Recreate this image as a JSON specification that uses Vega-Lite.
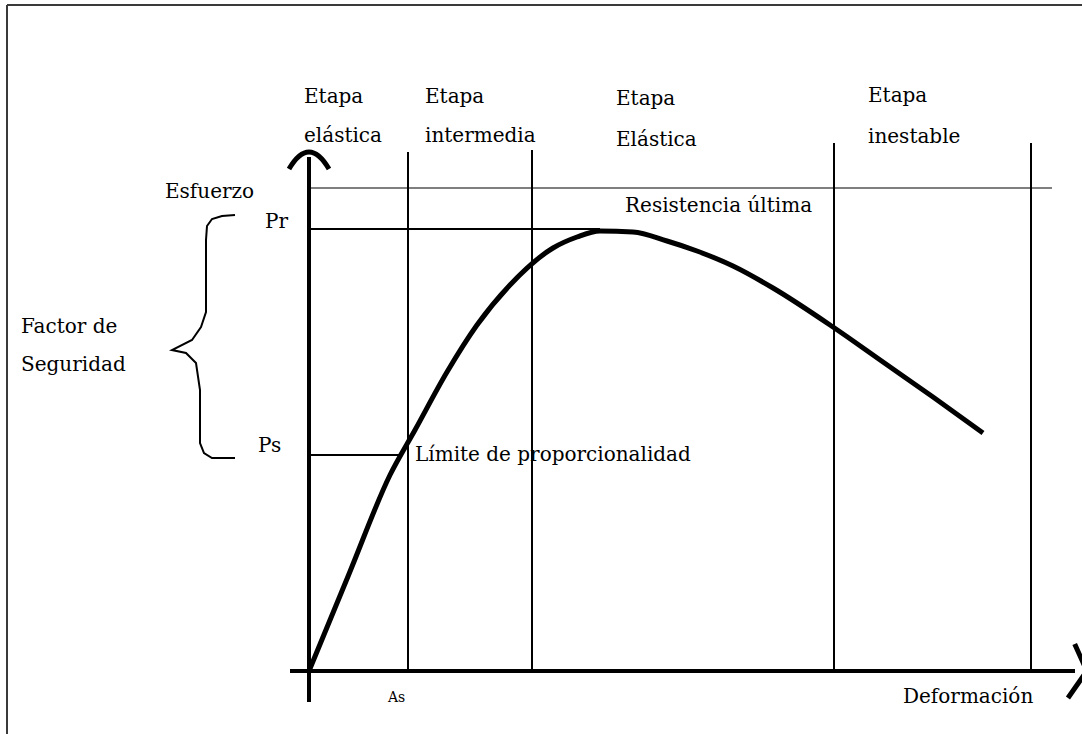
{
  "$schema": "https://vega.github.io/schema/vega-lite/v6.json",
  "width": 1082,
  "height": 734,
  "autosize": {"type": "none"},
  "padding": 0,
  "background": "white",
  "config": {"view": {"stroke": null}},
  "datasets": {
    "frame": [
      {"x": -302, "y": 666, "x2": 773, "y2": 666},
      {"x": -302, "y": -63, "x2": -302, "y2": 666}
    ],
    "axes": [
      {"x": 0, "y": -31, "x2": 0, "y2": 514},
      {"x": -19, "y": 0, "x2": 766, "y2": 0}
    ],
    "guides": [
      {"x": 99, "y": 0, "x2": 99, "y2": 519},
      {"x": 223, "y": 0, "x2": 223, "y2": 521},
      {"x": 525, "y": 0, "x2": 525, "y2": 528},
      {"x": 722, "y": 0, "x2": 722, "y2": 528},
      {"x": 0, "y": 442, "x2": 291, "y2": 442},
      {"x": 0, "y": 216, "x2": 91, "y2": 216}
    ],
    "thin": [
      {"x": 0, "y": 483, "x2": 743, "y2": 483}
    ],
    "brace": [
      {"i": 1, "x": -74, "y": 456},
      {"i": 2, "x": -87, "y": 455},
      {"i": 3, "x": -97, "y": 452},
      {"i": 4, "x": -102, "y": 445},
      {"i": 5, "x": -103, "y": 431},
      {"i": 6, "x": -103, "y": 359},
      {"i": 7, "x": -108, "y": 344},
      {"i": 8, "x": -117, "y": 331},
      {"i": 9, "x": -137, "y": 321},
      {"i": 10, "x": -123, "y": 318},
      {"i": 11, "x": -113, "y": 308},
      {"i": 12, "x": -109, "y": 281},
      {"i": 13, "x": -109, "y": 228},
      {"i": 14, "x": -105, "y": 218},
      {"i": 15, "x": -97, "y": 213},
      {"i": 16, "x": -74, "y": 213}
    ],
    "curve": [
      {"x": 0, "y": 0},
      {"x": 40, "y": 97},
      {"x": 81, "y": 196},
      {"x": 106, "y": 241},
      {"x": 138, "y": 299},
      {"x": 168, "y": 346},
      {"x": 201, "y": 386},
      {"x": 244, "y": 423},
      {"x": 268, "y": 434},
      {"x": 291, "y": 440},
      {"x": 324, "y": 439},
      {"x": 358, "y": 430},
      {"x": 388, "y": 420},
      {"x": 424, "y": 405},
      {"x": 464, "y": 383},
      {"x": 524, "y": 344},
      {"x": 574, "y": 309},
      {"x": 624, "y": 274},
      {"x": 674, "y": 238}
    ],
    "uparrow": [{"x": 0, "y": 511}],
    "rightarrow": [{"x": 763, "y": 0}],
    "labels": [
      {"x": -5, "y": 568, "t": "Etapa"},
      {"x": -5, "y": 529, "t": "elástica"},
      {"x": 116, "y": 568, "t": "Etapa"},
      {"x": 116, "y": 529, "t": "intermedia"},
      {"x": 307, "y": 566, "t": "Etapa"},
      {"x": 307, "y": 525, "t": "Elástica"},
      {"x": 559, "y": 569, "t": "Etapa"},
      {"x": 559, "y": 528, "t": "inestable"},
      {"x": -144, "y": 473, "t": "Esfuerzo"},
      {"x": -44, "y": 443, "t": "Pr"},
      {"x": -288, "y": 338, "t": "Factor de"},
      {"x": -288, "y": 300, "t": "Seguridad"},
      {"x": -51, "y": 219, "t": "Ps"},
      {"x": 106, "y": 210, "t": "Límite de proporcionalidad"},
      {"x": 316, "y": 459, "t": "Resistencia última"},
      {"x": 594, "y": -32, "t": "Deformación"}
    ],
    "small": [
      {"x": 79, "y": -31, "t": "As"}
    ]
  },
  "encoding": {
    "x": {"field": "x", "type": "quantitative", "scale": {"domain": [-309, 773], "nice": false, "zero": false}, "axis": null},
    "y": {"field": "y", "type": "quantitative", "scale": {"domain": [-63, 671], "nice": false, "zero": false}, "axis": null}
  },
  "layer": [
    {
      "data": {"name": "frame"},
      "mark": {"type": "rule", "strokeWidth": 2, "color": "#3a3a3a"},
      "encoding": {"x2": {"field": "x2"}, "y2": {"field": "y2"}}
    },
    {
      "data": {"name": "axes"},
      "mark": {"type": "rule", "strokeWidth": 4, "color": "black"},
      "encoding": {"x2": {"field": "x2"}, "y2": {"field": "y2"}}
    },
    {
      "data": {"name": "guides"},
      "mark": {"type": "rule", "strokeWidth": 2, "color": "black"},
      "encoding": {"x2": {"field": "x2"}, "y2": {"field": "y2"}}
    },
    {
      "data": {"name": "thin"},
      "mark": {"type": "rule", "strokeWidth": 1.2, "color": "black"},
      "encoding": {"x2": {"field": "x2"}, "y2": {"field": "y2"}}
    },
    {
      "data": {"name": "brace"},
      "mark": {"type": "line", "strokeWidth": 2, "color": "black"},
      "encoding": {"order": {"field": "i", "type": "quantitative"}}
    },
    {
      "data": {"name": "curve"},
      "mark": {"type": "line", "strokeWidth": 5, "color": "black", "interpolate": "monotone"},
      "encoding": {}
    },
    {
      "data": {"name": "uparrow"},
      "mark": {"type": "point", "shape": "M-1,0.45 Q0,-1.25 1,0.45", "size": 1600, "filled": false, "strokeWidth": 5, "color": "black", "opacity": 1},
      "encoding": {}
    },
    {
      "data": {"name": "rightarrow"},
      "mark": {"type": "point", "shape": "M0.1,-1 L0.55,0 L-0.15,1", "size": 2916, "filled": false, "strokeWidth": 5, "color": "black", "opacity": 1},
      "encoding": {}
    },
    {
      "data": {"name": "labels"},
      "mark": {"type": "text", "font": "DejaVu Serif", "fontSize": 20, "align": "left", "baseline": "alphabetic", "color": "black"},
      "encoding": {"text": {"field": "t", "type": "nominal"}}
    },
    {
      "data": {"name": "small"},
      "mark": {"type": "text", "font": "DejaVu Serif", "fontSize": 14, "align": "left", "baseline": "alphabetic", "color": "black"},
      "encoding": {"text": {"field": "t", "type": "nominal"}}
    }
  ]
}
